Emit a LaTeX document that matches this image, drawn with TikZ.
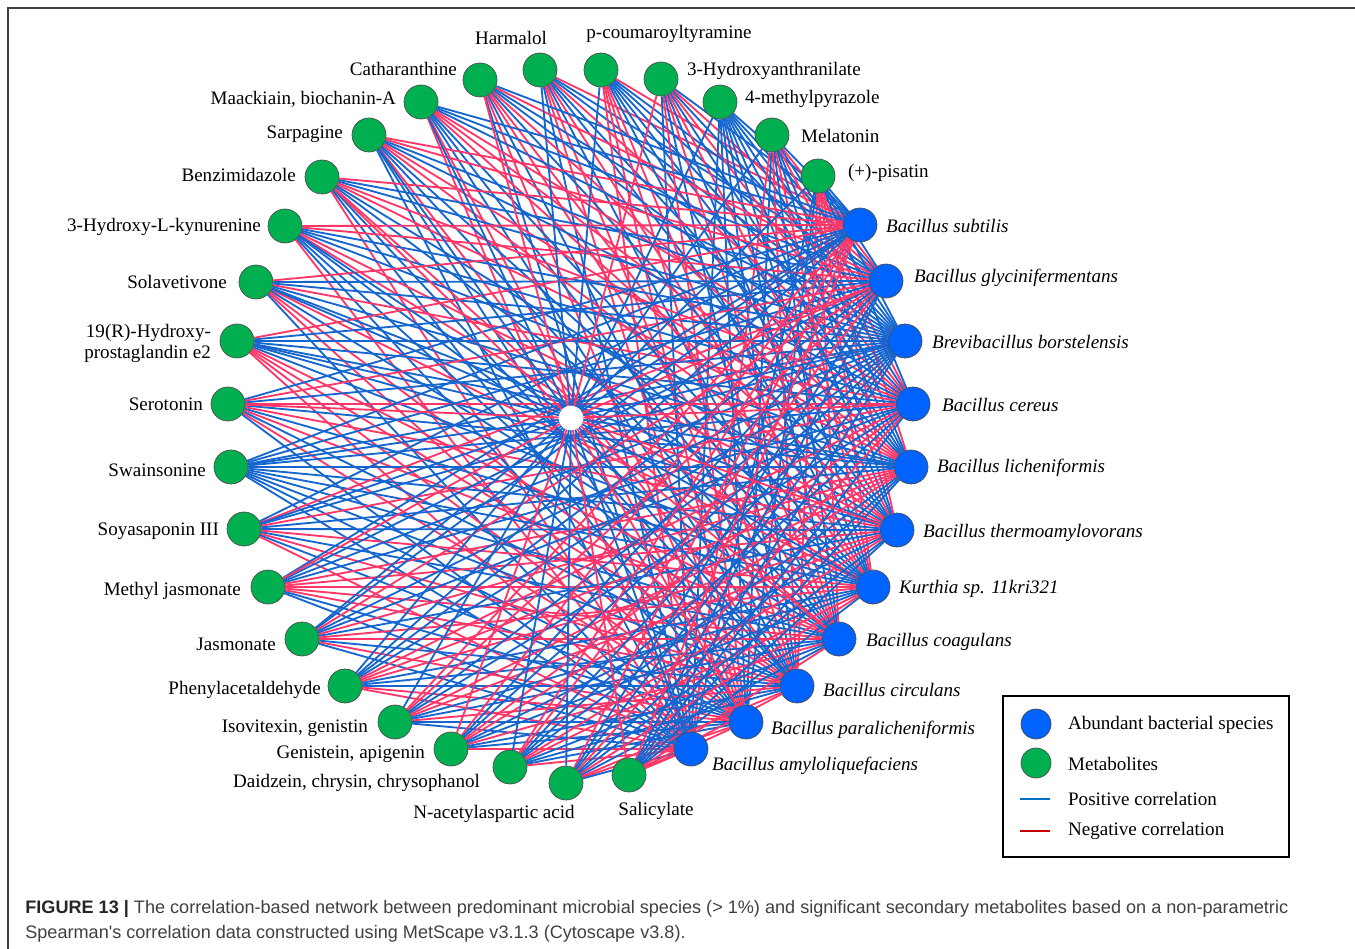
\documentclass[tikz,border=0pt]{standalone}
\usepackage{fontspec}
\setmainfont{Liberation Serif}
\newfontfamily\capfont{Liberation Sans}
\usetikzlibrary{backgrounds}

\definecolor{metgreen}{RGB}{0,176,80}
\definecolor{bacblue}{RGB}{0,98,255}
\definecolor{poscol}{RGB}{22,102,208}
\definecolor{negcol}{RGB}{255,55,105}
\definecolor{legpos}{RGB}{0,112,192}
\definecolor{legneg}{RGB}{200,0,0}

\begin{document}
\begin{tikzpicture}[x=0.02cm, y=-0.02cm]
      \tikzset{met/.style={circle, draw=black!70, line width=0.4pt, fill=metgreen, minimum size=0.68cm, inner sep=0pt},
        bac/.style={circle, draw=black!70, line width=0.4pt, fill=bacblue, minimum size=0.68cm, inner sep=0pt},
        lbl/.style={font=\fontsize{10.85}{12}\selectfont, inner sep=1pt, align=right},
        posedge/.style={draw=poscol, line width=1.05pt},
        negedge/.style={draw=negcol, line width=1.05pt}}
      \useasboundingbox (0,0) rectangle (1355,949);
      % frame
      \draw[black!75, line width=1.1pt] (1355,8) -- (8,8) -- (8,949);

      % metabolites
      \foreach \px/\py/\lx/\ly/\an/\txt [count=\i] in {
        540/70/511/38/center/Harmalol,
        601/70/669/34/center/p-coumaroyltyramine,
        661/79/685/71/west/3-Hydroxyanthranilate,
        720/102/743/99/west/4-methylpyrazole,
        772/135/799/136/west/Melatonin,
        818/176/846/173/west/(+)-pisatin,
        480/80/459/69/east/Catharanthine,
        421/102/398/99/east/{Maackiain, biochanin-A},
        369/135/345/134/east/Sarpagine,
        322/177/298/175/east/Benzimidazole,
        285/226/263/227/east/3-Hydroxy-L-kynurenine,
        256/282/229/282/east/Solavetivone,
        237/341/213/343/east/{19(R)-Hydroxy-\\prostaglandin e2},
        228/404/205/404/east/Serotonin,
        231/467/208/470/east/Swainsonine,
        244/529/221/531/east/Soyasaponin III,
        268/587/243/591/east/Methyl jasmonate,
        302/639/278/644/east/Jasmonate,
        345/686/323/690/east/Phenylacetaldehyde,
        395/722/370/728/east/{Isovitexin, genistin},
        451/749/427/754/east/{Genistein, apigenin},
        510/767/482/783/east/{Daidzein, chrysin, chrysophanol},
        566/783/494/814/center/N-acetylaspartic acid,
        629/775/656/811/center/Salicylate} {
        \node[met] (m\i) at (\px,\py) {};
        \node[lbl, anchor=\an] (ml\i) at (\lx,\ly) {\txt};
      }

      % bacteria
      \foreach \px/\py/\lx/\ly/\txt [count=\i] in {
        860/225/884/226/Bacillus subtilis,
        886/281/912/278/Bacillus glycinifermentans,
        905/341/930/342/Brevibacillus borstelensis,
        913/404/940/405/Bacillus cereus,
        911/467/935/468/Bacillus licheniformis,
        897/530/921/533/Bacillus thermoamylovorans,
        873/587/897/589/Kurthia sp. 11kri321,
        839/639/864/642/Bacillus coagulans,
        797/686/821/690/Bacillus circulans,
        746/722/769/730/Bacillus paralicheniformis,
        691/749/710/766/Bacillus amyloliquefaciens} {
        \node[bac] (b\i) at (\px,\py) {};
        \node[lbl, anchor=west, font=\fontsize{10.85}{12}\selectfont\itshape] (bl\i) at (\lx,\ly) {\txt};
      }

      \node[circle, fill=white, minimum size=0.48cm, inner sep=0pt] (hub) at (571,418) {};

      \begin{pgfonlayer}{background}
        \foreach \i in {1,...,24} {
          \foreach \j in {1,...,11} {
            \pgfmathtruncatemacro\h{mod(7*\i+13*\j+5*\i*\j,11)}
            \ifnum\h<5 \draw[negedge] (m\i) -- (b\j); \else \draw[posedge] (m\i) -- (b\j); \fi
          }
        }
        \foreach \k in {1,...,24} {
          \pgfmathtruncatemacro\h{mod(5*\k,7)}
          \ifnum\h<2 \draw[negedge] (hub) -- (m\k); \else \draw[posedge] (hub) -- (m\k); \fi
        }
        \foreach \k in {1,...,11} {
          \ifodd\k \draw[posedge] (hub) -- (b\k); \else \draw[negedge] (hub) -- (b\k); \fi
        }
      \end{pgfonlayer}

      % legend
      \draw[black, line width=1.1pt] (1003,696) rectangle (1289,857);
      \node[bac, minimum size=0.6cm] (lgb) at (1036,724) {};
      \node[met, minimum size=0.6cm] (lgm) at (1036,763) {};
      \coordinate (lp1) at (1020,799); \coordinate (lp2) at (1050,799);
      \coordinate (ln1) at (1020,831); \coordinate (ln2) at (1050,831);
      \draw[legpos, line width=1.2pt] (lp1) -- (lp2);
      \draw[legneg, line width=1.2pt] (ln1) -- (ln2);
      \node[lbl, anchor=west] (lgt1) at (1066,725) {Abundant bacterial species};
      \node[lbl, anchor=west] (lgt2) at (1066,764) {Metabolites};
      \node[lbl, anchor=west] (lgt3) at (1066,799) {Positive correlation};
      \node[lbl, anchor=west] (lgt4) at (1066,831) {Negative correlation};

      % caption
      \node[anchor=north west, align=left, inner sep=0pt, text=black!75,
        font=\capfont\fontsize{10.3}{14.2}\selectfont] (cap) at (25,900)
        {{\bfseries\color{black!85}FIGURE 13 |} The correlation-based network between predominant microbial species (> 1\%) and significant secondary metabolites based on a non-parametric\\
        Spearman's correlation data constructed using MetScape v3.1.3 (Cytoscape v3.8).};
    \end{tikzpicture}
\end{document}
